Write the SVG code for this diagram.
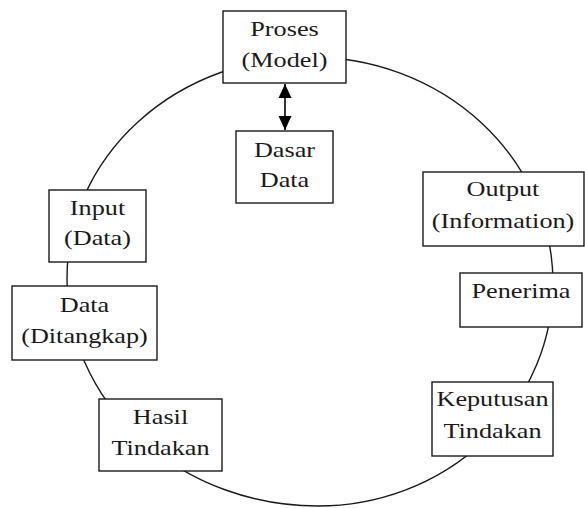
<svg xmlns="http://www.w3.org/2000/svg" width="585" height="508" viewBox="0 0 585 508">
  <style>
    .box { fill: #ffffff; stroke: #1a1a1a; stroke-width: 1.4; }
    .ring { fill: none; stroke: #1a1a1a; stroke-width: 1.4; }
    .lbl { font-size: 21.5px; fill: #1a1a1a; text-anchor: middle; }
    .link { stroke: #000000; stroke-width: 1.6; fill: none; }
  </style>
  <defs>
    <marker id="head" viewBox="0 0 14 14" refX="14" refY="7" markerWidth="14" markerHeight="14" markerUnits="userSpaceOnUse" orient="auto-start-reverse">
      <path d="M0,0.5 L14,7 L0,13.5 Z" fill="#000000"/>
    </marker>
  </defs>

  <!-- cycle ring behind the boxes: four quarter arcs -->
  <g id="connectors">
    <path class="ring" d="M310,57 A243,226 0 0 1 553,283 A235,223 0 0 1 318,506 A251,228 0 0 1 67,278 A243,221 0 0 1 310,57 Z"/>
    <line class="link" x1="285" y1="84" x2="285" y2="130" marker-start="url(#head)" marker-end="url(#head)"/>
  </g>

  <g font-family="'Liberation Serif', 'Times New Roman', 'DejaVu Serif', serif">
  <g id="proses">
    <rect class="box" x="223" y="11" width="123" height="72"/>
    <text class="lbl" transform="translate(284.5 36) scale(1.22 1)">Proses</text>
    <text class="lbl" transform="translate(284.5 67) scale(1.22 1)">(Model)</text>
  </g>

  <g id="dasar-data">
    <rect class="box" x="236" y="131" width="97" height="72"/>
    <text class="lbl" transform="translate(284.5 157) scale(1.22 1)">Dasar</text>
    <text class="lbl" transform="translate(284.5 187) scale(1.22 1)">Data</text>
  </g>

  <g id="output">
    <rect class="box" x="423" y="172" width="161" height="74"/>
    <text class="lbl" transform="translate(503 196) scale(1.22 1)">Output</text>
    <text class="lbl" transform="translate(503 228) scale(1.22 1)">(Information)</text>
  </g>

  <g id="penerima">
    <rect class="box" x="460" y="273" width="122" height="54"/>
    <text class="lbl" transform="translate(521 298) scale(1.22 1)">Penerima</text>
  </g>

  <g id="keputusan">
    <rect class="box" x="432" y="382" width="121" height="74"/>
    <text class="lbl" transform="translate(492.5 406) scale(1.22 1)">Keputusan</text>
    <text class="lbl" transform="translate(492.5 438) scale(1.22 1)">Tindakan</text>
  </g>

  <g id="hasil">
    <rect class="box" x="99" y="399" width="123" height="72"/>
    <text class="lbl" transform="translate(160.5 424) scale(1.22 1)">Hasil</text>
    <text class="lbl" transform="translate(160.5 455) scale(1.22 1)">Tindakan</text>
  </g>

  <g id="data">
    <rect class="box" x="12" y="286" width="145" height="74"/>
    <text class="lbl" transform="translate(84.5 312) scale(1.22 1)">Data</text>
    <text class="lbl" transform="translate(84.5 343) scale(1.22 1)">(Ditangkap)</text>
  </g>

  <g id="input">
    <rect class="box" x="49" y="190" width="97" height="72"/>
    <text class="lbl" transform="translate(97.5 215) scale(1.22 1)">Input</text>
    <text class="lbl" transform="translate(97.5 245) scale(1.22 1)">(Data)</text>
  </g>
  </g>
</svg>
